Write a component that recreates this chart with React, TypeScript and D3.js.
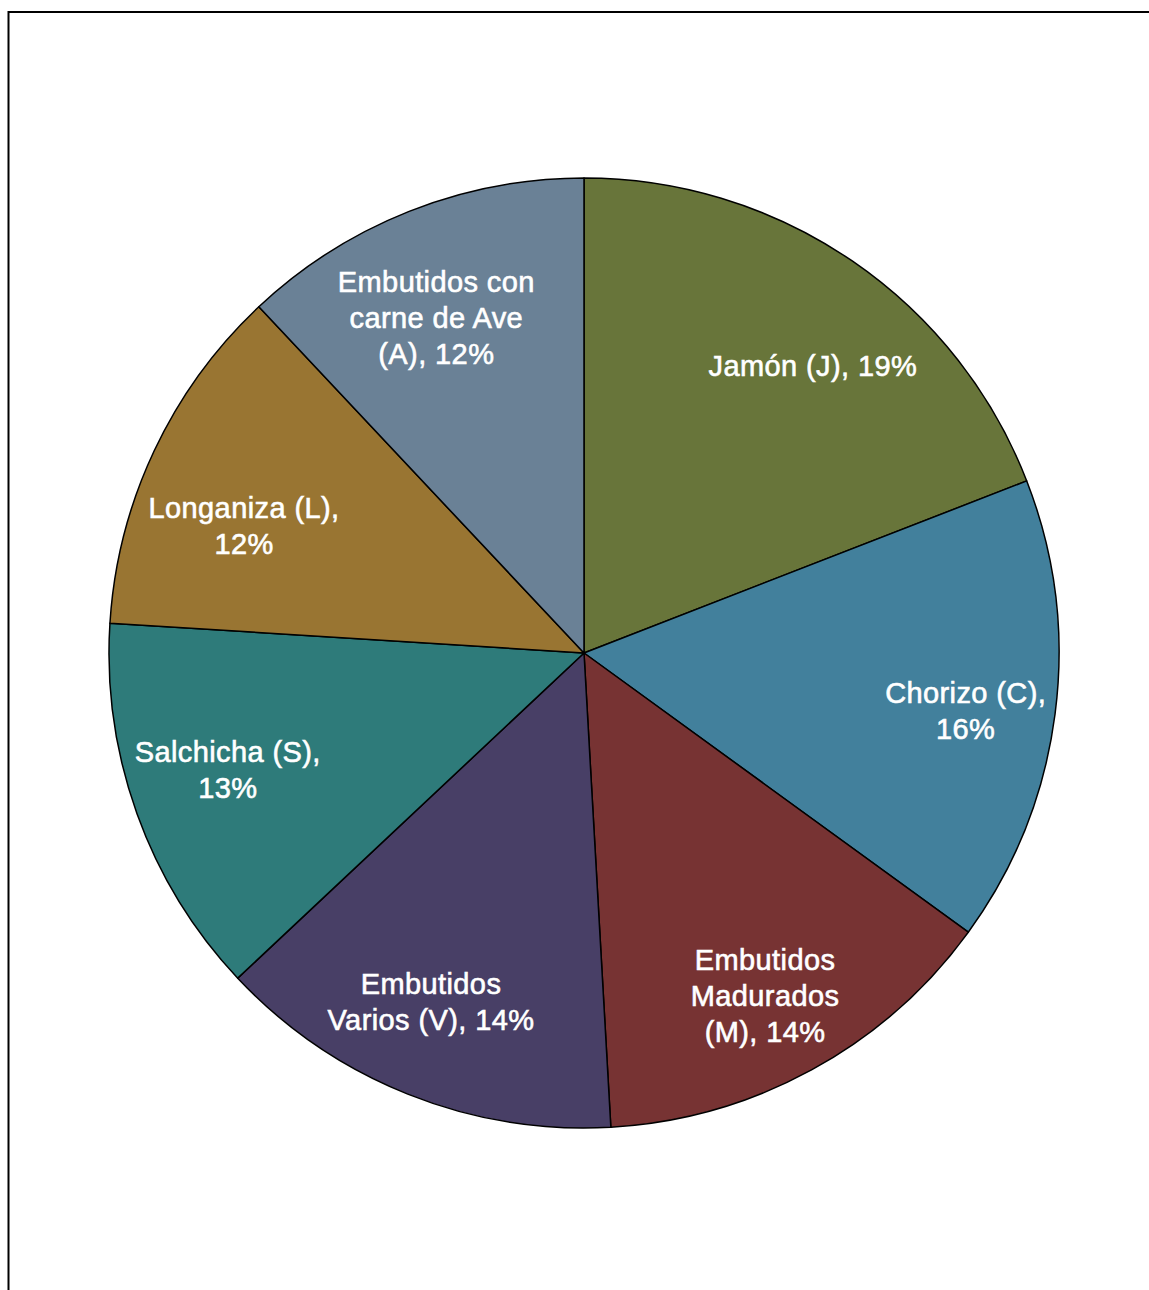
import React from "react";
import * as d3 from "d3";

const categories = [
  "Jamón (J)",
  "Chorizo (C)",
  "Embutidos Madurados (M)",
  "Embutidos Varios (V)",
  "Salchicha (S)",
  "Longaniza (L)",
  "Embutidos con carne de Ave (A)",
];
const values = [19.1, 15.9, 14.1, 13.9, 13.0, 12.0, 12.0];
const percentLabels = ["19%", "16%", "14%", "14%", "13%", "12%", "12%"];
const labelLines = [
  ["Jamón (J), 19%"],
  ["Chorizo (C),", "16%"],
  ["Embutidos", "Madurados", "(M), 14%"],
  ["Embutidos", "Varios (V), 14%"],
  ["Salchicha (S),", "13%"],
  ["Longaniza (L),", "12%"],
  ["Embutidos con", "carne de Ave", "(A), 12%"],
];
const colors = ["#68753A", "#42809C", "#773333", "#483F66", "#2E7B7A", "#997532", "#6A8196"];
// label placement (best-fit style): distance from centre and angular shift in degrees
const labelRadius = [367, 386, 388, 381, 375, 363, 366];
const labelAngleShift = [4.2, 1.2, 0.8, 1.9, 1.6, -4.7, -2.2];

const W = 1149;
const H = 1290;
const cx = 584;
const cy = 653;
const R = 475;
const lineH = 36;

export default function App() {
  const data = categories.map((c, i) => ({ c, v: values[i], i }));
  const pie = d3.pie<any>().value((d) => d.v).sort(null);
  const arcs = pie(data);
  const arc = d3.arc<any>().innerRadius(0).outerRadius(R);

  return (
    <svg
      width={W}
      height={H}
      style={{ position: "absolute", left: 0, top: 0, display: "block" }}
    >
      <rect x={0} y={0} width={W} height={H} fill="#fff" />
      <rect x={8.5} y={12} width={W + 20} height={H + 20} fill="none" stroke="#000" strokeWidth={2} />
      <g transform={`translate(${cx},${cy})`}>
        {arcs.map((a, i) => (
          <path key={i} d={arc(a) as string} fill={colors[i]} stroke="#000" strokeWidth={1.5} strokeLinejoin="round" />
        ))}
        {arcs.map((a, i) => {
          const mid = (a.startAngle + a.endAngle) / 2 + (labelAngleShift[i] * Math.PI) / 180;
          const x = Math.sin(mid) * labelRadius[i];
          const y = -Math.cos(mid) * labelRadius[i];
          const lines = labelLines[i];
          const n = lines.length;
          const top = y - ((n - 1) * lineH) / 2 + 10;
          return (
            <text
              key={"t" + i}
              x={x}
              y={top}
              textAnchor="middle"
              fill="#fff"
              stroke="#fff"
              strokeWidth={0.6}
              style={{ fontFamily: "'Liberation Sans', Arial, sans-serif", fontSize: 29, letterSpacing: 0.4 }}
            >
              {lines.map((l, j) => (
                <tspan key={j} x={x} y={top + j * lineH}>
                  {l}
                </tspan>
              ))}
            </text>
          );
        })}
      </g>
    </svg>
  );
}
